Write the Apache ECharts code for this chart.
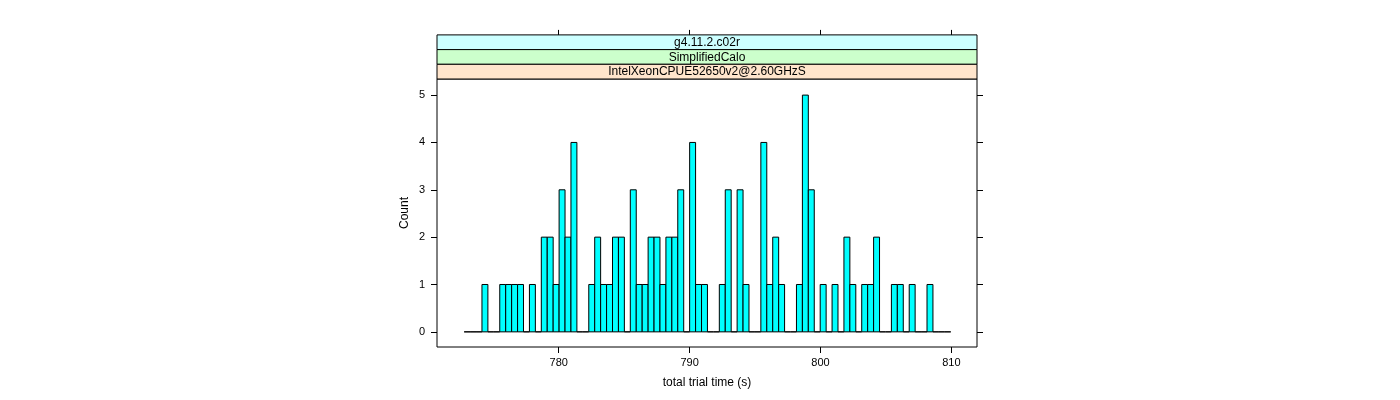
<!DOCTYPE html>
<html>
<head>
<meta charset="utf-8">
<script src="https://cdn.jsdelivr.net/npm/echarts@6/dist/echarts.min.js"></script>
<style>
  html, body { margin: 0; padding: 0; background: #fff; }
  #chart { width: 1400px; height: 400px; }
</style>
</head>
<body>
<div id="chart"></div>
<script>
// histogram breaks: first edge and bin width (seconds)
const binStart = 772.775
const binWidth = 0.4534
// counts per bin, 82 bins
const counts = [
  0, 0, 0, 1, 0, 0, 1, 1, 1, 1,
  0, 1, 0, 2, 2, 1, 3, 2, 4, 0,
  0, 1, 2, 1, 1, 2, 2, 0, 3, 1,
  1, 2, 2, 1, 2, 2, 3, 0, 4, 1,
  1, 0, 0, 1, 3, 0, 3, 1, 0, 0,
  4, 1, 2, 1, 0, 0, 1, 5, 3, 0,
  1, 0, 1, 0, 2, 1, 0, 1, 1, 2,
  0, 0, 1, 1, 0, 1, 0, 0, 1, 0,
  0, 0
]
const xTicks = [780, 790, 800, 810]
const yTicks = [0, 1, 2, 3, 4, 5]
// strips from outermost (top) to innermost
const stripLabels = ['g4.11.2.c02r', 'SimplifiedCalo', 'IntelXeonCPUE52650v2@2.60GHzS']
const stripColors = ['#ccffff', '#ccffcc', '#ffe5cc']

const FONT = '"Liberation Sans", Arial, Helvetica, sans-serif'
const GRID = { left: 437, top: 79, right: 423, bottom: 53 }
const STRIP_H = 14.7

const bins = counts.map((c, i) => [binStart + i * binWidth, binStart + (i + 1) * binWidth, c])

const chart = echarts.init(document.getElementById('chart'))

// strip boxes above the panel
const plotW = 1400 - GRID.left - GRID.right
const strips = []
stripLabels.forEach((txt, i) => {
  const y = GRID.top - STRIP_H * (stripLabels.length - i)
  strips.push({
    type: 'rect',
    shape: { x: GRID.left, y: y, width: plotW, height: STRIP_H },
    style: { fill: stripColors[i], stroke: '#000', lineWidth: 1 },
    z: 10
  })
  strips.push({
    type: 'text',
    x: GRID.left + plotW / 2,
    y: y + STRIP_H / 2 + 0.5,
    style: { text: txt, fill: '#000', font: '12px ' + FONT, align: 'center', verticalAlign: 'middle' },
    z: 11
  })
})

const tickStyle = { show: true, length: 6, inside: false, lineStyle: { color: '#000', width: 1 } }
const noLine = { show: false, onZero: false }

const option = {
  animation: false,
  textStyle: { fontFamily: FONT },
  grid: {
    left: GRID.left, top: GRID.top, right: GRID.right, bottom: GRID.bottom,
    show: true, borderColor: '#000', borderWidth: 1, backgroundColor: 'transparent'
  },
  xAxis: [
    {
      type: 'value', min: 770.7, max: 811.96, position: 'bottom',
      splitLine: { show: false },
      axisLine: noLine,
      axisTick: Object.assign({ customValues: xTicks }, tickStyle),
      axisLabel: { customValues: xTicks, color: '#000', fontSize: 11, margin: 10, fontFamily: FONT },
      name: 'total trial time (s)', nameLocation: 'middle', nameGap: 30,
      nameTextStyle: { color: '#000', fontSize: 12, fontFamily: FONT }
    },
    {
      type: 'value', min: 770.7, max: 811.96, position: 'top', offset: STRIP_H * 3,
      splitLine: { show: false },
      axisLine: noLine,
      axisTick: Object.assign({ customValues: xTicks }, tickStyle, { length: 5 }),
      axisLabel: { show: false }
    }
  ],
  yAxis: [
    {
      type: 'value', min: -0.32, max: 5.34, position: 'left',
      splitLine: { show: false },
      axisLine: noLine,
      axisTick: Object.assign({ customValues: yTicks }, tickStyle),
      axisLabel: { customValues: yTicks, color: '#000', fontSize: 11, margin: 12, fontFamily: FONT },
      name: 'Count', nameLocation: 'middle', nameGap: 26, nameRotate: 90,
      nameTextStyle: { color: '#000', fontSize: 12, fontFamily: FONT }
    },
    {
      type: 'value', min: -0.32, max: 5.34, position: 'right',
      splitLine: { show: false },
      axisLine: noLine,
      axisTick: Object.assign({ customValues: yTicks }, tickStyle),
      axisLabel: { show: false }
    }
  ],
  series: [
    {
      type: 'custom',
      xAxisIndex: 0,
      yAxisIndex: 0,
      data: bins,
      encode: { x: [0, 1], y: 2 },
      renderItem: function (params, api) {
        const p0 = api.coord([api.value(0), api.value(2)])
        const p1 = api.coord([api.value(1), 0])
        return {
          type: 'rect',
          shape: { x: p0[0], y: p0[1], width: p1[0] - p0[0], height: p1[1] - p0[1] },
          style: { fill: api.value(2) > 0 ? '#00ffff' : 'none', stroke: '#000', lineWidth: 1 }
        }
      }
    }
  ],
  graphic: strips
}

chart.setOption(option)
</script>
</body>
</html>
